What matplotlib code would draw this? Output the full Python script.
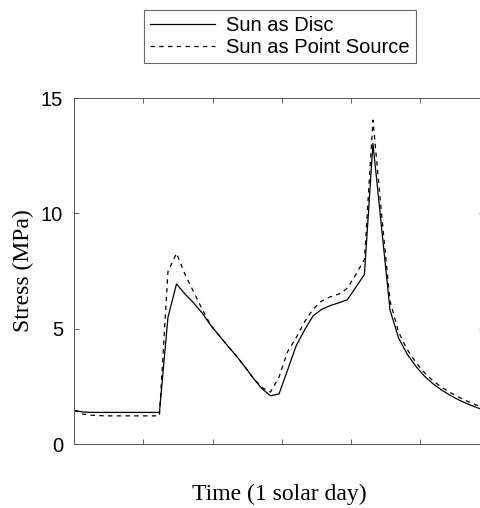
import numpy as np
import matplotlib.pyplot as plt

# one Martian sol in seconds, sampled every half hour-ish (48 steps)
sol_length = 88775
time = np.linspace(0, sol_length, 49)

stress_disc = [1.46, 1.39, 1.37, 1.37, 1.37, 1.37, 1.37, 1.37, 1.37, 1.37,
               1.37, 5.49, 6.94, 6.50, 6.12, 5.68, 5.15, 4.70, 4.25, 3.82,
               3.35, 2.85, 2.40, 2.09, 2.17, 3.20, 4.25, 4.95, 5.56, 5.84,
               6.00, 6.12, 6.25, 6.80, 7.35, 13.03, 9.40, 5.80, 4.60, 3.90,
               3.38, 2.95, 2.62, 2.35, 2.12, 1.92, 1.75, 1.60, 1.47]

stress_point = [1.47, 1.30, 1.25, 1.23, 1.22, 1.22, 1.22, 1.22, 1.22, 1.22,
                1.22, 7.47, 8.27, 7.35, 6.60, 5.85, 5.15, 4.70, 4.25, 3.82,
                3.35, 2.85, 2.45, 2.25, 2.90, 4.00, 4.60, 5.30, 5.85, 6.20,
                6.38, 6.50, 6.75, 7.35, 8.00, 14.04, 10.00, 6.20, 4.85, 4.10,
                3.55, 3.10, 2.75, 2.47, 2.24, 2.04, 1.86, 1.70, 1.56]

sans = 'Liberation Sans'
serif = 'Liberation Serif'

fig = plt.figure(figsize=(4.8, 5.08), dpi=100)
ax = fig.add_axes([74/480, 64/508, 410/480, 346/508])

ax.plot(time, stress_disc, color='black', lw=0.9, label='Sun as Disc')
ax.plot(time, stress_point, color='black', lw=0.9, ls=(0, (3.5, 3.5)),
        label='Sun as Point Source')

ax.set_xlim(0, sol_length)
ax.set_ylim(0, 15)
ax.set_xticks(np.arange(0, sol_length, 15000))
ax.set_xticklabels([])
ax.set_yticks([0, 5, 10, 15])
ax.tick_params(direction='in', length=3.6, width=0.6, color='#444444',
               top=True, right=True, labelsize=14.5, pad=8)
for lab in ax.get_yticklabels():
    lab.set_fontfamily(sans)
for sp in ax.spines.values():
    sp.set_linewidth(0.7)
    sp.set_color('#555555')

ax.set_xlabel('Time (1 solar day)', fontsize=17, family=serif, labelpad=21)
ax.set_ylabel('Stress (MPa)', fontsize=17, family=serif, labelpad=5)

leg = fig.legend(loc='upper center', bbox_to_anchor=(280/480, 1 - 10/508),
                 prop={'family': sans, 'size': 14.5}, frameon=True,
                 fancybox=False, handlelength=3.25, handletextpad=0.55,
                 borderpad=0.3, labelspacing=0.15, borderaxespad=0)
leg.get_frame().set_edgecolor('#444444')
leg.get_frame().set_linewidth(0.8)

plt.savefig('out.png', dpi=100)
